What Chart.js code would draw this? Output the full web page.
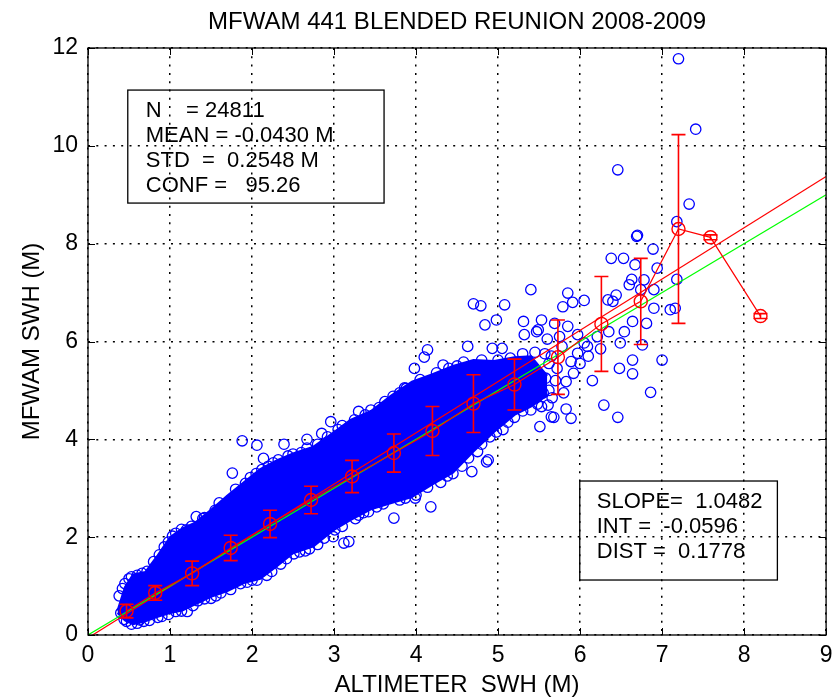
<!DOCTYPE html>
<html>
<head>
<meta charset="utf-8">
<script src="https://cdn.jsdelivr.net/npm/chart.js@4/dist/chart.umd.min.js"></script>
<style>
  html, body { margin: 0; padding: 0; background: #fff; }
  canvas { display: block; }
</style>
</head>
<body>
<canvas id="swh-chart" width="834" height="700"></canvas>
<script>
// Binned means of model SWH against altimeter SWH, with one-sigma spread
const binX    = [0.47, 0.82, 1.27, 1.74, 2.22, 2.72, 3.22, 3.73, 4.20, 4.70, 5.20, 5.73, 6.26, 6.74, 7.20, 7.59, 8.20];
const binMean = [0.49, 0.86, 1.26, 1.78, 2.27, 2.76, 3.24, 3.72, 4.17, 4.73, 5.12, 5.68, 6.36, 6.82, 8.30, 8.13, 6.52];
const binStd  = [0.14, 0.15, 0.25, 0.26, 0.28, 0.28, 0.33, 0.39, 0.50, 0.59, 0.52, 0.76, 0.97, 0.88, 1.93, 0.05, 0.05];

// Dense core of the scatter: upper and lower envelope at shared x positions
const cloudX      = [0.36, 0.45, 0.55, 0.70, 0.85, 1.00, 1.15, 1.30, 1.50, 1.70, 1.90, 2.10, 2.30, 2.50, 2.75, 3.00, 3.20, 3.45, 3.70, 3.95, 4.20, 4.45, 4.70, 4.95, 5.20, 5.40, 5.60];
const cloudTop    = [0.50, 0.98, 1.24, 1.29, 1.63, 2.00, 2.18, 2.29, 2.56, 2.85, 3.12, 3.39, 3.57, 3.71, 3.85, 4.15, 4.40, 4.58, 4.90, 5.18, 5.33, 5.50, 5.62, 5.60, 5.68, 5.70, 5.30];
const cloudBottom = [0.45, 0.30, 0.22, 0.28, 0.37, 0.45, 0.50, 0.62, 0.78, 0.90, 1.06, 1.15, 1.40, 1.67, 1.81, 2.15, 2.35, 2.57, 2.70, 2.82, 3.08, 3.32, 3.75, 4.15, 4.50, 4.67, 4.90];

// Individual collocations: the ragged edge of the cloud and the sparse high-sea tail
const scatterPts = [
  [0.40, 0.45], [0.47, 0.28], [0.53, 0.22], [0.63, 0.31], [0.75, 0.30], [0.90, 0.38], [1.07, 0.48], [1.21, 0.48],
  [1.34, 0.70], [1.50, 0.75], [1.62, 0.86], [1.86, 1.05], [2.00, 1.12], [2.18, 1.22], [2.35, 1.45], [2.51, 1.66],
  [2.65, 1.72], [2.80, 1.85], [2.99, 2.01], [3.01, 2.15], [3.12, 1.88], [3.18, 1.91], [3.30, 2.45], [3.42, 2.52],
  [3.73, 2.39], [3.60, 2.68], [3.87, 2.80], [3.99, 2.80], [4.18, 2.62], [4.30, 3.12], [4.45, 3.30], [4.68, 3.34],
  [4.86, 3.54], [4.88, 3.58], [4.75, 3.75], [4.90, 4.05], [5.06, 4.20], [5.20, 4.45], [5.40, 4.60], [5.51, 4.26],
  [5.61, 4.70], [5.65, 4.46], [5.53, 4.67],
  [0.44, 0.32], [0.60, 0.24], [0.68, 0.28], [0.85, 0.36], [0.98, 0.42], [1.14, 0.49], [1.28, 0.60], [1.42, 0.74],
  [1.56, 0.80], [1.74, 0.93], [1.94, 1.08], [2.06, 1.12], [2.24, 1.30], [2.42, 1.56], [2.58, 1.70], [2.70, 1.76],
  [2.88, 1.98], [3.10, 2.22], [3.26, 2.38], [3.36, 2.50], [3.52, 2.62], [3.80, 2.76], [4.00, 2.86], [4.14, 3.02],
  [4.38, 3.25], [4.56, 3.45], [4.64, 3.62], [4.80, 3.90], [4.98, 4.15], [5.12, 4.35], [5.30, 4.58], [5.48, 4.72],
  [0.38, 0.80], [0.45, 1.05], [0.53, 1.19], [0.60, 1.22], [0.72, 1.30], [0.87, 1.64], [0.98, 1.90], [1.07, 2.08],
  [1.20, 2.15], [1.32, 2.42], [1.42, 2.40], [1.55, 2.55], [1.74, 2.76], [1.76, 3.31], [1.88, 3.97], [1.92, 3.10],
  [2.06, 3.88], [2.05, 3.30], [2.14, 3.61], [2.20, 3.45], [2.32, 3.58], [2.39, 3.90], [2.50, 3.70], [2.67, 4.00],
  [2.67, 3.82], [2.85, 4.12], [2.96, 4.36], [3.05, 4.20], [3.30, 4.57], [3.45, 4.60], [3.62, 4.77], [3.80, 4.95],
  [0.42, 0.95], [0.50, 1.15], [0.66, 1.26], [0.80, 1.50], [0.93, 1.80], [1.03, 2.02], [1.14, 2.16], [1.26, 2.22],
  [1.40, 2.38], [1.60, 2.70], [1.80, 2.98], [1.98, 3.22], [2.12, 3.38], [2.26, 3.52], [2.44, 3.66], [2.60, 3.73],
  [2.80, 3.90], [2.92, 4.05], [3.10, 4.28], [3.25, 4.40], [3.38, 4.50], [3.55, 4.65], [3.72, 4.88], [3.86, 5.05],
  [4.05, 5.22], [4.25, 5.36], [4.40, 5.45], [4.58, 5.58], [4.80, 5.62], [5.00, 5.62], [5.15, 5.66], [5.30, 5.75],
  [5.45, 5.78],
  [3.88, 5.04], [3.98, 5.45], [4.10, 5.68], [4.14, 5.83], [4.33, 5.52], [4.50, 5.50], [4.63, 5.90], [4.70, 6.77],
  [4.79, 6.73], [4.84, 6.34], [4.98, 6.44], [4.93, 5.86], [5.05, 5.86], [5.08, 6.75], [5.31, 6.41], [5.40, 7.06],
  [5.49, 6.24], [5.53, 6.44], [5.32, 6.14], [5.47, 6.20], [5.69, 6.37], [5.79, 6.71], [5.85, 6.99], [5.91, 6.80],
  [6.05, 6.84], [5.85, 6.31], [5.97, 6.14], [6.09, 5.90], [5.97, 5.76], [5.89, 5.59], [5.83, 5.18], [6.05, 5.97],
  [6.21, 6.10], [6.34, 6.85], [6.40, 6.82], [6.44, 6.95], [6.49, 5.97], [6.54, 6.20], [6.64, 6.41], [6.81, 6.37],
  [6.90, 6.68], [7.10, 6.65], [7.16, 6.68], [7.18, 7.27], [6.60, 7.16], [6.63, 7.27], [6.78, 7.26], [6.67, 7.57],
  [6.38, 7.70], [6.53, 7.70], [6.94, 7.50], [6.89, 7.89], [6.69, 8.15], [6.70, 8.17], [7.18, 8.45], [7.33, 8.81],
  [7.41, 10.34], [7.20, 11.78], [6.46, 9.51], [6.74, 7.06], [6.90, 7.06], [6.76, 5.93], [7.00, 5.62], [6.64, 5.62],
  [6.48, 5.45], [6.64, 5.34], [6.86, 4.96], [6.29, 4.70], [6.46, 4.45], [5.83, 4.62], [5.89, 4.43], [5.68, 4.45],
  [5.62, 5.00], [5.70, 5.20], [5.72, 5.45], [5.65, 5.70], [5.78, 5.90], [5.92, 5.35], [6.00, 5.55], [6.10, 5.70],
  [5.60, 6.05], [5.75, 6.10], [6.15, 5.20], [6.25, 5.85], [6.35, 6.20], [5.55, 4.95], [5.80, 4.95], [5.58, 5.25],
  [5.62, 5.55], [5.66, 4.85], [5.57, 5.75]
];

// Regression summary and error statistics
const FIT_SLOPE = 1.0482;
const FIT_INT = -0.0596;
const FIT_DIST = 0.1778;
const statLines = ['N    = 24811', 'MEAN = -0.0430 M', 'STD  =  0.2548 M', 'CONF =   95.26'];
const fitLines = ['SLOPE=  ' + FIT_SLOPE.toFixed(4), 'INT =  ' + FIT_INT.toFixed(4), 'DIST =  ' + FIT_DIST.toFixed(4)];
const lineX = [0, 9];

const BLUE = '#0000ff';
const RED = '#ff0000';
const GREEN = '#00ff00';
const FONT = '"Liberation Sans", Arial, sans-serif';

// Box, inward ticks, error bars and the two statistics panels
const framePlugin = {
  id: 'frame',
  afterDatasetsDraw(chart) {
    const { ctx, chartArea: a, scales: { x, y } } = chart;
    ctx.save();
    ctx.beginPath();
    ctx.rect(a.left, a.top, a.right - a.left, a.bottom - a.top);
    ctx.clip();
    ctx.strokeStyle = RED;
    ctx.lineWidth = 1.6;
    binX.forEach((bx, i) => {
      const px = x.getPixelForValue(bx);
      const top = y.getPixelForValue(binMean[i] + binStd[i]);
      const bot = y.getPixelForValue(binMean[i] - binStd[i]);
      ctx.beginPath();
      ctx.moveTo(px, top); ctx.lineTo(px, bot);
      ctx.moveTo(px - 7, top); ctx.lineTo(px + 7, top);
      ctx.moveTo(px - 7, bot); ctx.lineTo(px + 7, bot);
      ctx.stroke();
    });
    ctx.restore();
  },
  afterDraw(chart) {
    const { ctx, chartArea: a, scales: { x, y } } = chart;
    ctx.save();
    ctx.strokeStyle = '#000';
    ctx.lineWidth = 1.3;
    ctx.strokeRect(a.left, a.top, a.right - a.left, a.bottom - a.top);

    // inward tick marks on all four sides
    ctx.lineWidth = 1;
    ctx.beginPath();
    x.ticks.forEach(t => {
      const px = Math.round(x.getPixelForValue(t.value)) + 0.5;
      ctx.moveTo(px, a.bottom); ctx.lineTo(px, a.bottom - 7);
      ctx.moveTo(px, a.top); ctx.lineTo(px, a.top + 7);
    });
    y.ticks.forEach(t => {
      const py = Math.round(y.getPixelForValue(t.value)) + 0.5;
      ctx.moveTo(a.left, py); ctx.lineTo(a.left + 7, py);
      ctx.moveTo(a.right, py); ctx.lineTo(a.right - 7, py);
    });
    ctx.stroke();

    const drawPanel = (x0, y0, x1, y1, lines, padX, firstY, gap) => {
      const l = x.getPixelForValue(x0), r = x.getPixelForValue(x1);
      const t = y.getPixelForValue(y0), b = y.getPixelForValue(y1);
      ctx.lineWidth = 1.3;
      ctx.strokeStyle = '#000';
      ctx.strokeRect(l, t, r - l, b - t);
      ctx.fillStyle = '#000';
      ctx.font = '22px ' + FONT;
      ctx.textAlign = 'left';
      ctx.textBaseline = 'middle';
      lines.forEach((s, i) => ctx.fillText(s, l + padX, t + firstY + i * gap));
    };
    drawPanel(0.485, 11.14, 3.61, 8.83, statLines, 18, 21, 24.8);
    drawPanel(5.996, 3.148, 8.406, 1.124, fitLines, 17, 21, 25);
    ctx.restore();
  }
};

new Chart(document.getElementById('swh-chart'), {
  type: 'line',
  data: {
    datasets: [
      {
        label: 'bin mean',
        data: binX.map((v, i) => ({ x: v, y: binMean[i] })),
        borderColor: RED,
        borderWidth: 1.2,
        pointStyle: 'circle',
        pointRadius: 6.5,
        pointBorderColor: RED,
        pointBorderWidth: 1.4,
        pointBackgroundColor: 'rgba(0,0,0,0)',
        order: 0
      },
      {
        label: '1:1',
        data: lineX.map(v => ({ x: v, y: v })),
        borderColor: GREEN,
        borderWidth: 1.2,
        pointRadius: 0,
        order: 1
      },
      {
        label: 'fit',
        data: lineX.map(v => ({ x: v, y: FIT_SLOPE * v + FIT_INT })),
        borderColor: RED,
        borderWidth: 1.2,
        pointRadius: 0,
        order: 2
      },
      {
        label: 'collocations',
        data: scatterPts.map(p => ({ x: p[0], y: p[1] })),
        showLine: false,
        pointStyle: 'circle',
        pointRadius: 5.2,
        pointBorderColor: BLUE,
        pointBorderWidth: 1.3,
        pointBackgroundColor: 'rgba(0,0,0,0)',
        order: 3
      },
      {
        label: 'cloud top',
        data: cloudX.map((v, i) => ({ x: v, y: cloudTop[i] })),
        borderColor: BLUE,
        borderWidth: 2,
        backgroundColor: BLUE,
        pointRadius: 0,
        fill: '+1',
        order: 4
      },
      {
        label: 'cloud bottom',
        data: cloudX.map((v, i) => ({ x: v, y: cloudBottom[i] })),
        borderColor: BLUE,
        borderWidth: 2,
        pointRadius: 0,
        fill: false,
        order: 5
      }
    ]
  },
  options: {
    responsive: false,
    animation: false,
    events: [],
    layout: { padding: { left: 0, right: 3, top: 0, bottom: 0 } },
    plugins: {
      legend: { display: false },
      tooltip: { enabled: false },
      title: {
        display: true,
        text: 'MFWAM 441 BLENDED REUNION 2008-2009',
        fullSize: false,
        color: '#000',
        font: { family: FONT, size: 24, weight: 'normal', lineHeight: 1 },
        padding: { top: 10, bottom: 14 }
      }
    },
    scales: {
      x: {
        type: 'linear',
        min: 0,
        max: 9,
        ticks: { stepSize: 1, color: '#000', padding: 7, font: { family: FONT, size: 23 } },
        grid: { color: '#000', lineWidth: 1.5, drawTicks: false },
        border: { display: false, dash: [2, 6.3] },
        title: {
          display: true,
          text: 'ALTIMETER  SWH (M)',
          color: '#000',
          font: { family: FONT, size: 24, lineHeight: 1 },
          padding: { top: 0, bottom: 3 }
        },
        afterFit(scale) {
          scale.height = 65;
          scale.paddingLeft = 0;
          scale.paddingRight = 0;
        }
      },
      y: {
        type: 'linear',
        min: 0,
        max: 12,
        ticks: { stepSize: 2, color: '#000', padding: 10, font: { family: FONT, size: 23 } },
        grid: { color: '#000', lineWidth: 1.5, drawTicks: false },
        border: { display: false, dash: [2, 6.3] },
        title: {
          display: true,
          text: 'MFWAM SWH (M)',
          color: '#000',
          font: { family: FONT, size: 24, lineHeight: 1 },
          padding: { top: 20, bottom: 0 }
        },
        afterFit(scale) {
          scale.width = 88;
          scale.paddingTop = 0;
          scale.paddingBottom = 0;
        }
      }
    }
  },
  plugins: [framePlugin]
});
</script>
</body>
</html>
